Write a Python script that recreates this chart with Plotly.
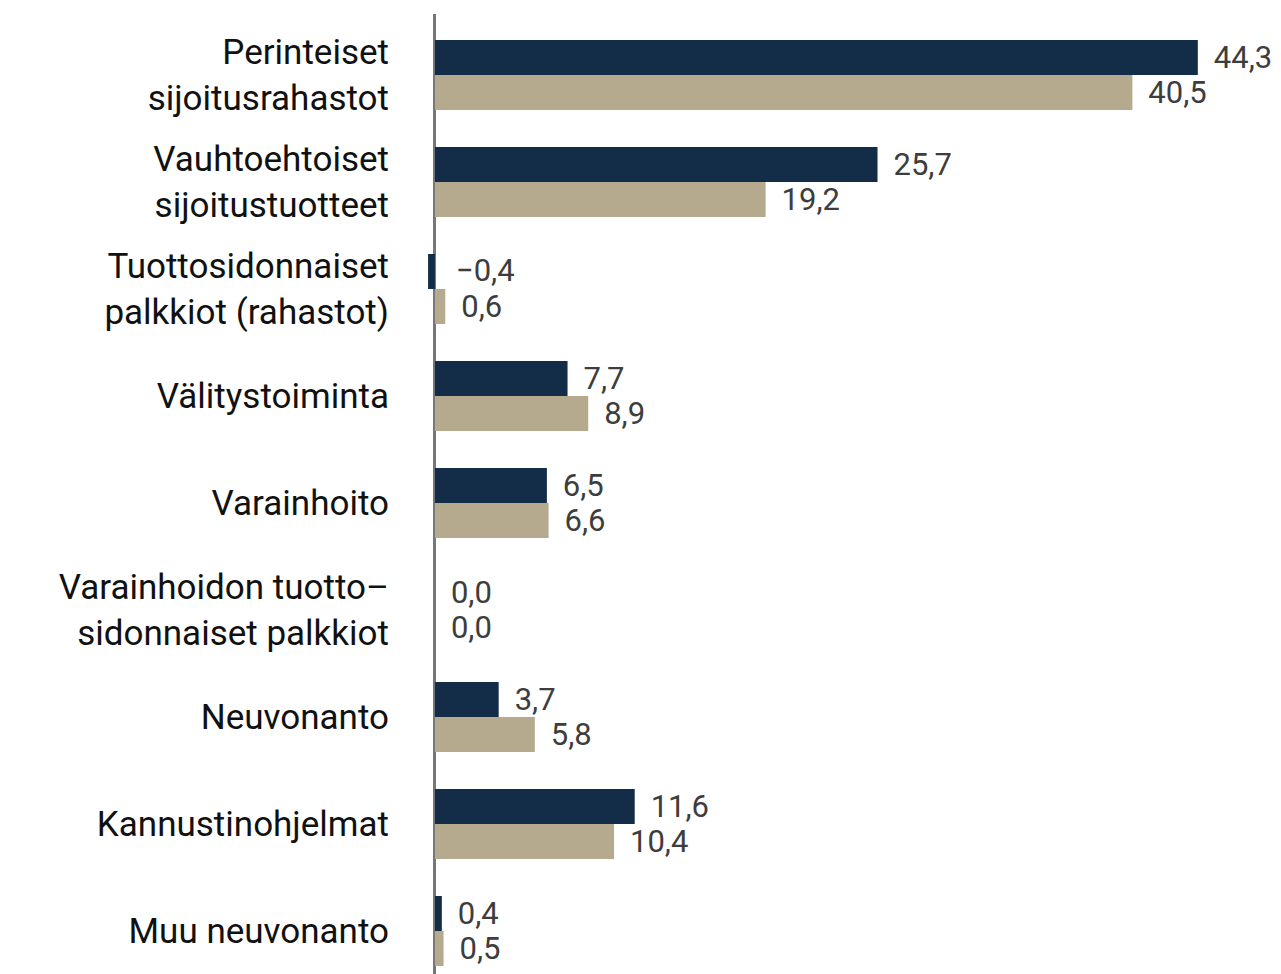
import plotly.graph_objects as go

categories = [
    "Perinteiset<br>sijoitusrahastot",
    "Vauhtoehtoiset<br>sijoitustuotteet",
    "Tuottosidonnaiset<br>palkkiot (rahastot)",
    "Välitystoiminta",
    "Varainhoito",
    "Varainhoidon tuotto–<br>sidonnaiset palkkiot",
    "Neuvonanto",
    "Kannustinohjelmat",
    "Muu neuvonanto",
]
series_a = [44.3, 25.7, -0.4, 7.7, 6.5, 0.0, 3.7, 11.6, 0.4]
series_b = [40.5, 19.2, 0.6, 8.9, 6.6, 0.0, 5.8, 10.4, 0.5]

navy = "#132d48"
beige = "#b5aa8e"
label_font = dict(family="Roboto", size=31, color="#3d3d3d")
pad = "\u00a0\u2006"

fig = go.Figure()
for k, (vals, col) in enumerate([(series_a, navy), (series_b, beige)]):
    positions = ["outside" if v >= 0 else "none" for v in vals]
    fig.add_trace(go.Bar(
        y=categories, x=vals, orientation="h",
        marker=dict(color=col, line=dict(width=0)),
        texttemplate=pad + "%{x:.1f}", textposition=positions,
        textfont=label_font, outsidetextfont=label_font,
        cliponaxis=False, constraintext="none",
        hoverinfo="skip",
    ))
    # negative values: label placed to the right of the zero line
    for i, v in enumerate(vals):
        if v < 0:
            fig.add_annotation(
                x=0, y=i + (-0.17 if k == 0 else 0.17), xref="x", yref="y",
                text=pad + "\u2212" + f"{abs(v):.1f}".replace(".", ","),
                showarrow=False, xanchor="left", yanchor="middle",
                font=label_font, xshift=6,
            )

fig.update_layout(
    width=1281, height=974,
    margin=dict(l=395, r=0, t=14, b=0, autoexpand=False),
    paper_bgcolor="white", plot_bgcolor="white",
    barmode="group", bargap=0.346, bargroupgap=0,
    showlegend=False,
    separators=", ",
    font=dict(family="Roboto", color="#111111"),
)
fig.update_xaxes(
    range=[-2.32, 49.13], showticklabels=False, showgrid=False,
    zeroline=True, zerolinecolor="#777777", zerolinewidth=3,
    showline=False, fixedrange=True, automargin=False,
)
fig.update_yaxes(
    type="category", range=[8.402, -0.570],
    showgrid=False, zeroline=False, showline=False,
    ticks="", tickfont=dict(family="Roboto", size=35, color="#111111"),
    ticklabelstandoff=5, automargin=False, fixedrange=True,
)

fig.write_html(
    "out.html",
    config={"displayModeBar": False},
    post_script="document.body.style.margin='0';document.body.style.overflow='hidden';",
)
